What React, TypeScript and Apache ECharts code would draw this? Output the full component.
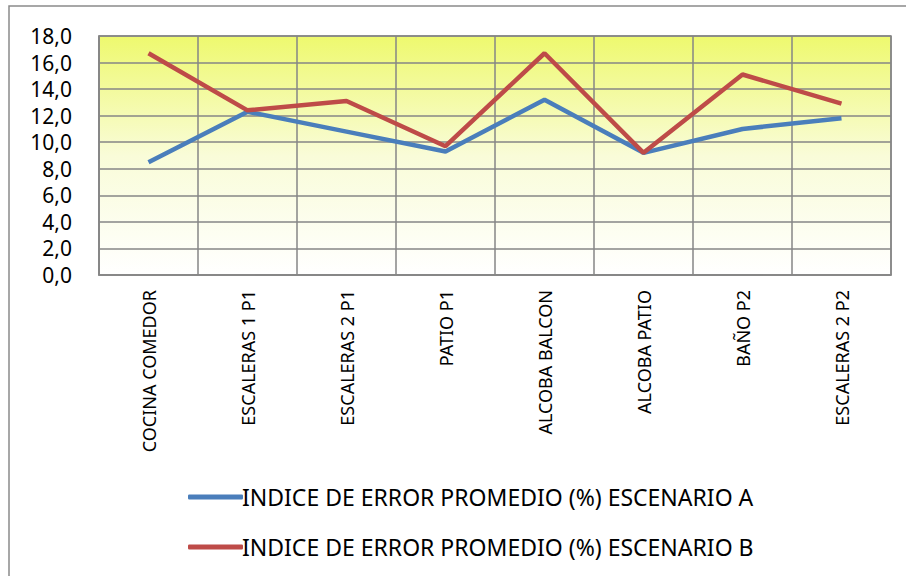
import React, { useEffect, useRef } from "react";
import * as echarts from "echarts";

const categories = [
  "COCINA COMEDOR",
  "ESCALERAS 1 P1",
  "ESCALERAS 2 P1",
  "PATIO P1",
  "ALCOBA BALCON",
  "ALCOBA PATIO",
  "BAÑO P2",
  "ESCALERAS 2 P2",
];
const seriesAName = "INDICE DE ERROR PROMEDIO (%) ESCENARIO A";
const seriesBName = "INDICE DE ERROR PROMEDIO (%) ESCENARIO B";
const seriesA = [8.5, 12.3, 10.8, 9.3, 13.2, 9.2, 11.0, 11.8];
const seriesB = [16.7, 12.4, 13.1, 9.7, 16.7, 9.2, 15.1, 12.9];
const yMin = 0;
const yMax = 18;
const yInterval = 2;

const FONT = "'Noto Sans', sans-serif";
const GRID_COLOR = "#868686";

export default function App() {
  const ref = useRef<HTMLDivElement>(null);
  useEffect(() => {
    if (!ref.current) return;
    const chart = echarts.init(ref.current, undefined, { renderer: "svg" });
    chart.setOption({
      animation: false,
      backgroundColor: "#ffffff",
      textStyle: { fontFamily: FONT },
      graphic: [
        {
          type: "rect",
          shape: { x: 9, y: 6, width: 1000, height: 1000 },
          style: { fill: "none", stroke: "#8a8a8a", lineWidth: 1.5 },
          silent: true,
        },
      ],
      grid: {
        left: 99,
        right: 15,
        top: 36,
        bottom: 301,
        show: true,
        borderColor: GRID_COLOR,
        borderWidth: 1.5,
        backgroundColor: {
          type: "linear",
          x: 0,
          y: 0,
          x2: 0,
          y2: 1,
          colorStops: [
            { offset: 0, color: "#EEF96E" },
            { offset: 0.5, color: "#F9FCD8" },
            { offset: 1, color: "#FFFFFF" },
          ],
        },
      },
      legend: {
        orient: "vertical",
        left: 183,
        top: 479,
        itemWidth: 55,
        itemHeight: 5,
        itemGap: 24,
        icon: "roundRect",
        textStyle: {
          fontFamily: FONT,
          fontSize: 23,
          color: "#000",
          lineHeight: 26,
          padding: [0, 0, 0, -6],
        },
        data: [seriesAName, seriesBName],
      },
      xAxis: {
        type: "category",
        data: categories,
        boundaryGap: true,
        axisLine: { show: true, lineStyle: { color: GRID_COLOR, width: 1.5 } },
        axisTick: { show: false },
        splitLine: { show: true, lineStyle: { color: GRID_COLOR, width: 1.5 } },
        axisLabel: {
          rotate: 90,
          fontFamily: FONT,
          fontSize: 18,
          color: "#000",
          margin: 15,
          interval: 0,
        },
      },
      yAxis: {
        type: "value",
        min: yMin,
        max: yMax,
        interval: yInterval,
        axisLine: { show: true, lineStyle: { color: GRID_COLOR, width: 1.5 } },
        axisTick: { show: false },
        splitLine: { show: true, lineStyle: { color: GRID_COLOR, width: 1.5 } },
        axisLabel: {
          fontFamily: FONT,
          fontSize: 21,
          lineHeight: 22,
          color: "#000",
          margin: 27,
          formatter: (v: number) => v.toFixed(1).replace(".", ","),
        },
      },
      series: [
        {
          name: seriesAName,
          type: "line",
          data: seriesA,
          symbol: "none",
          lineStyle: { color: "#4A7EBB", width: 4.5 },
          itemStyle: { color: "#4A7EBB" },
        },
        {
          name: seriesBName,
          type: "line",
          data: seriesB,
          symbol: "none",
          lineStyle: { color: "#BE4B48", width: 4.5 },
          itemStyle: { color: "#BE4B48" },
        },
      ],
    });
    return () => chart.dispose();
  }, []);
  return (
    <div
      ref={ref}
      style={{ position: "fixed", left: 0, top: 0, width: 906, height: 576 }}
    />
  );
}
